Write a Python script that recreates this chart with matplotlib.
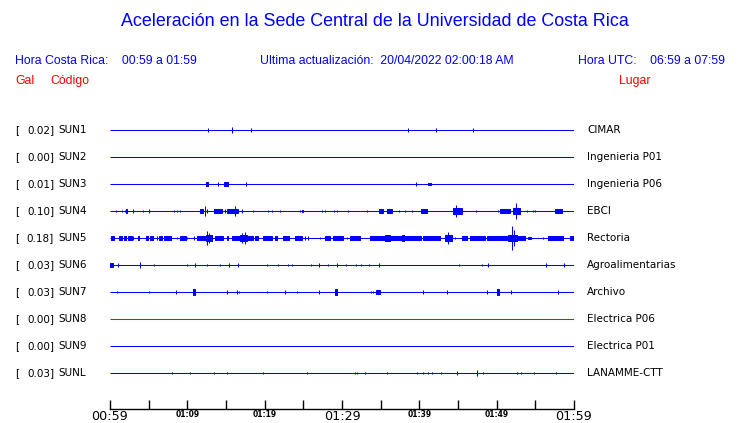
import matplotlib.pyplot as plt
from matplotlib.transforms import blended_transform_factory

# station rows, top to bottom
codes = ["SUN1", "SUN2", "SUN3", "SUN4", "SUN5", "SUN6", "SUN7", "SUN8", "SUN9", "SUNL"]
gal = ["0.02", "0.00", "0.01", "0.10", "0.18", "0.03", "0.03", "0.00", "0.00", "0.03"]
places = ["CIMAR", "Ingenieria P01", "Ingenieria P06", "EBCI", "Rectoria",
          "Agroalimentarias", "Archivo", "Electrica P06", "Electrica P01", "LANAMME-CTT"]
trace_colors = ["#0000ff"] * 7 + ["#ff0000"] + ["#0000ff"] * 2

# bursts per station: (start min, end min, half amplitude in row units), minutes after 00:59
events = {
    "SUN1": [(12.67, 12.67, 0.07), (15.78, 15.78, 0.1), (18.23, 18.23, 0.07),
             (38.53, 38.53, 0.07), (42.16, 42.16, 0.07), (46.94, 46.94, 0.06)],
    "SUN2": [],
    "SUN3": [(12.41, 12.67, 0.07), (13.97, 13.97, 0.06), (14.74, 15.26, 0.06),
             (17.59, 17.59, 0.07), (39.57, 39.57, 0.06), (41.12, 41.51, 0.05)],
    "SUN4": [(0.78, 0.78, 0.04), (1.55, 1.55, 0.04), (1.94, 1.94, 0.05), (2.07, 2.2, 0.07),
             (2.97, 2.97, 0.06), (4.27, 4.27, 0.04), (5.04, 5.04, 0.07), (8.28, 8.28, 0.05),
             (8.66, 8.66, 0.05), (9.05, 9.05, 0.05), (11.64, 12.03, 0.07), (12.28, 12.28, 0.2),
             (12.54, 12.54, 0.08), (13.45, 14.48, 0.08), (14.87, 14.87, 0.06), (15.13, 16.55, 0.07),
             (16.16, 16.16, 0.17), (17.07, 17.07, 0.06), (18.49, 18.49, 0.03), (20.43, 20.43, 0.05),
             (20.95, 20.95, 0.05), (21.98, 21.98, 0.04), (24.57, 24.57, 0.04), (24.83, 24.96, 0.05),
             (27.41, 27.41, 0.04), (27.8, 27.8, 0.04), (28.97, 28.97, 0.04), (29.35, 29.35, 0.04),
             (30.78, 30.78, 0.04), (33.23, 33.23, 0.04), (34.78, 35.3, 0.06), (35.82, 36.47, 0.06),
             (37.37, 37.37, 0.05), (38.15, 38.15, 0.05), (39.05, 39.05, 0.04), (40.22, 41.0, 0.07),
             (44.35, 45.52, 0.1), (44.74, 44.74, 0.22), (47.33, 47.33, 0.04), (50.17, 50.17, 0.05),
             (50.43, 51.72, 0.07), (52.11, 53.02, 0.12), (52.5, 52.5, 0.3), (53.92, 53.92, 0.05),
             (54.7, 54.7, 0.04), (54.96, 54.96, 0.04), (57.54, 58.45, 0.06)],
    "SUN5": [(0.13, 0.52, 0.08), (1.16, 1.55, 0.08), (1.81, 2.07, 0.06), (2.33, 2.84, 0.08),
             (2.97, 2.97, 0.06), (3.62, 3.75, 0.08), (4.66, 4.91, 0.06), (5.17, 5.56, 0.08),
             (6.08, 6.08, 0.06), (6.34, 6.72, 0.08), (6.98, 7.89, 0.07), (8.66, 8.66, 0.05),
             (9.05, 9.83, 0.07), (9.96, 9.96, 0.05), (10.86, 10.86, 0.06), (11.25, 12.41, 0.08),
             (12.41, 13.19, 0.12), (12.54, 12.54, 0.26), (12.8, 12.8, 0.2), (13.58, 13.84, 0.08),
             (13.97, 14.61, 0.07), (15.13, 15.26, 0.08), (15.78, 18.49, 0.08), (16.81, 17.72, 0.12),
             (17.07, 17.07, 0.18), (17.46, 17.46, 0.22), (18.75, 19.14, 0.07), (19.78, 20.95, 0.07),
             (21.34, 21.59, 0.06), (22.37, 23.15, 0.07), (23.92, 24.83, 0.07), (25.22, 25.22, 0.06),
             (25.6, 25.6, 0.06), (27.16, 27.16, 0.05), (27.8, 28.45, 0.07), (28.84, 30.13, 0.07),
             (30.65, 30.65, 0.05), (31.03, 32.33, 0.06), (33.62, 40.09, 0.07), (35.56, 36.21, 0.12),
             (37.76, 38.02, 0.1), (39.57, 40.22, 0.08), (40.47, 42.67, 0.07), (43.32, 44.22, 0.12),
             (43.71, 43.71, 0.22), (44.61, 44.61, 0.05), (45.52, 46.16, 0.07), (46.55, 48.49, 0.06),
             (48.75, 51.34, 0.07), (51.46, 52.63, 0.12), (51.98, 51.98, 0.44), (52.24, 52.24, 0.3),
             (52.76, 53.66, 0.08), (54.05, 54.44, 0.05), (55.99, 55.99, 0.05), (56.64, 58.58, 0.06),
             (59.48, 59.87, 0.07)],
    "SUN6": [(0.0, 0.39, 0.08), (1.03, 1.03, 0.07), (3.88, 3.88, 0.12), (5.69, 5.69, 0.05),
             (9.96, 9.96, 0.05), (10.99, 10.99, 0.08), (12.54, 12.54, 0.05), (14.22, 14.22, 0.05),
             (15.39, 15.39, 0.07), (16.55, 16.55, 0.08), (20.3, 20.3, 0.05), (21.72, 21.72, 0.05),
             (23.02, 23.02, 0.04), (23.53, 23.53, 0.05), (25.99, 25.99, 0.04), (27.03, 27.03, 0.07),
             (28.19, 28.19, 0.04), (29.35, 29.35, 0.07), (30.52, 30.52, 0.05), (31.81, 31.81, 0.04),
             (32.46, 32.46, 0.05), (33.49, 33.49, 0.04), (34.78, 34.78, 0.08), (45.13, 45.13, 0.04),
             (48.1, 48.1, 0.05), (48.88, 48.88, 0.08), (56.38, 56.38, 0.07), (58.71, 58.71, 0.07)],
    "SUN7": [(0.91, 0.91, 0.03), (5.04, 5.04, 0.05), (8.53, 8.53, 0.06), (10.73, 10.99, 0.1),
             (15.13, 15.13, 0.06), (16.42, 16.42, 0.06), (16.68, 16.68, 0.05), (20.3, 20.3, 0.04),
             (22.63, 22.63, 0.06), (24.18, 24.18, 0.05), (27.03, 27.03, 0.06), (29.09, 29.35, 0.1),
             (33.75, 33.75, 0.05), (34.01, 34.01, 0.04), (34.4, 34.91, 0.06), (40.47, 40.47, 0.07),
             (43.58, 43.58, 0.07), (48.75, 48.75, 0.06), (50.04, 50.3, 0.1), (51.85, 51.85, 0.06),
             (57.93, 57.93, 0.06)],
    "SUN8": [],
    "SUN9": [],
    "SUNL": [(8.02, 8.02, 0.03), (10.34, 10.34, 0.04), (13.45, 13.45, 0.03), (15.13, 15.13, 0.04),
             (19.78, 19.78, 0.03), (25.47, 25.47, 0.04), (31.68, 31.68, 0.05), (31.94, 31.94, 0.05),
             (32.97, 32.97, 0.05), (35.82, 35.82, 0.05), (39.7, 39.7, 0.03), (40.47, 40.47, 0.04),
             (41.12, 41.12, 0.04), (41.64, 41.64, 0.04), (42.8, 42.8, 0.03), (44.87, 44.87, 0.07),
             (47.46, 47.46, 0.1), (48.23, 48.23, 0.04), (52.63, 52.63, 0.05), (53.15, 53.15, 0.04),
             (54.83, 54.83, 0.04), (57.67, 57.67, 0.04)],
}

tick_minutes = [0, 10, 20, 30, 40, 50, 60]
tick_labels = ["00:59", "01:09", "01:19", "01:29", "01:39", "01:49", "01:59"]
big_labels = ["00:59", "01:29", "01:59"]

W, H = 740, 423
fig = plt.figure(figsize=(W / 100, H / 100), dpi=100)
ax = fig.add_axes([110 / W, 1 - 409 / H, 464 / W, 298 / H])
ax.set_xlim(0, 60)
ax.set_ylim(10.33, -0.7)

hdr = "Liberation Sans"
fig.text(375 / W, 1 - 22 / H, "Aceleración en la Sede Central de la Universidad de Costa Rica",
         ha="center", va="center", color="#0000ff", fontsize=12.9, family=hdr)
fig.text(15 / W, 1 - 61 / H, "Hora Costa Rica:    00:59 a 01:59", ha="left", va="center",
         color="#0000ff", fontsize=8.8, family=hdr)
fig.text(260 / W, 1 - 61 / H, "Ultima actualización:  20/04/2022 02:00:18 AM", ha="left",
         va="center", color="#0000ff", fontsize=8.8, family=hdr)
fig.text(725 / W, 1 - 61 / H, "Hora UTC:    06:59 a 07:59", ha="right", va="center",
         color="#0000ff", fontsize=8.8, family=hdr)
fig.text(15 / W, 1 - 81 / H, "Gal", ha="left", va="center", color="#ff0000", fontsize=8.8, family=hdr)
fig.text(50 / W, 1 - 81 / H, "Código", ha="left", va="center", color="#ff0000", fontsize=8.8, family=hdr)
fig.text(651 / W, 1 - 81 / H, "Lugar", ha="right", va="center", color="#ff0000", fontsize=8.8, family=hdr)

trans = blended_transform_factory(fig.transFigure, ax.transData)
for i, code in enumerate(codes):
    c = trace_colors[i]
    ax.plot([0, 60], [i, i], color=c, lw=0.75, solid_capstyle="butt")
    for t0, t1, a in events[code]:
        ax.bar(t0, 2 * a, width=t1 - t0, bottom=i - a, align="edge",
               color=c, edgecolor=c, lw=0.75)
    ax.text(15 / W, i, "[", transform=trans, ha="left", va="center", fontsize=7.5)
    ax.text(54 / W, i, gal[i] + "]", transform=trans, ha="right", va="center", fontsize=7.5)
    ax.text(58 / W, i, code, transform=trans, ha="left", va="center", fontsize=7.5)
    ax.text(587 / W, i, places[i], transform=trans, ha="left", va="center", fontsize=7.5)

for s in ["top", "left", "right"]:
    ax.spines[s].set_visible(False)
ax.spines["bottom"].set_linewidth(1)
ax.set_yticks([])
ax.set_xticks(range(0, 61, 5), minor=False)
ax.set_xticklabels([tick_labels[tick_minutes.index(m)] if m in tick_minutes else ""
                    for m in range(0, 61, 5)])
ax.tick_params(axis="x", direction="in", length=6.5, width=1, pad=1)
for lab in ax.get_xticklabels():
    if lab.get_text() in big_labels:
        lab.set_fontsize(9.2)
    else:
        lab.set_fontsize(5.5)
        lab.set_fontweight("bold")

fig.savefig("out.png", dpi=100)
